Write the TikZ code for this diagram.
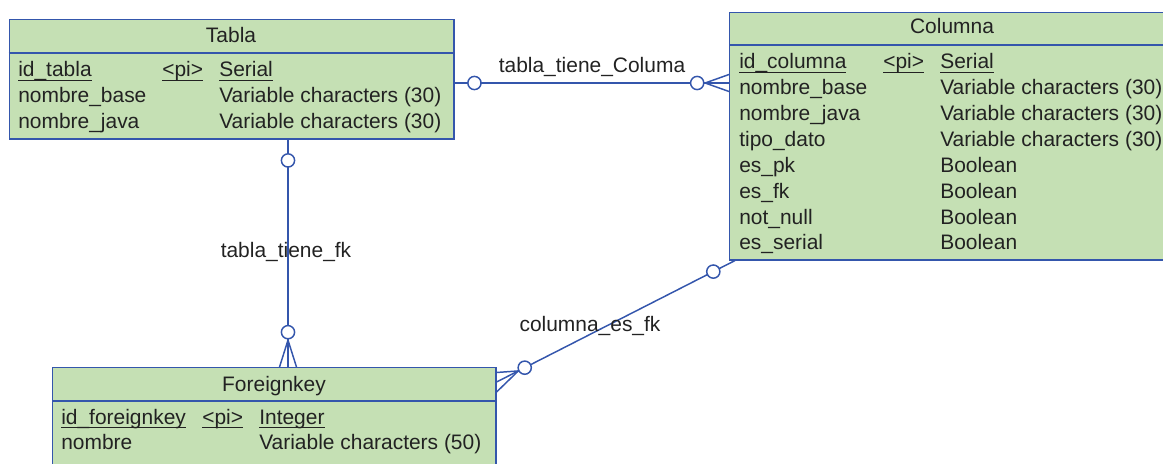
\documentclass[tikz,border=0pt]{standalone}
\usepackage{fontspec}
\setmainfont{Liberation Sans}
\usetikzlibrary{calc,positioning}
\definecolor{entfill}{RGB}{197,224,180}
\definecolor{entline}{RGB}{52,86,172}
\definecolor{enttext}{RGB}{34,34,34}
\newcommand{\pkul}[1]{\setbox0\hbox{#1}\rlap{\rule[-2.9pt]{\wd0}{0.8pt}}\box0}
\tikzset{
  entity/.style={
    draw = entline,
    fill = entfill,
    line width = 1.05pt,
    anchor = north west,
    inner sep = 0pt
  },
  attr/.style={
    anchor = base west,
    inner sep = 0pt,
    text = enttext
  },
  ttl/.style={
    anchor = base,
    inner sep = 0pt,
    text = enttext
  },
  rel/.style={
    draw = entline,
    line width = 1.05pt
  },
  opt/.style={
    shape = circle,
    draw = entline,
    fill = white,
    line width = 1.05pt,
    minimum size = 0.33cm,
    inner sep = 0pt
  },
  every picture/.style = {
    font=\fontsize{14.9}{17}\selectfont
  }
}

\begin{document}
\begin{tikzpicture}[x=0.025cm,y=-0.025cm]
  \clip (0,0) rectangle (1163,464);
  % entidades
  \node[entity, minimum width=11.11cm, minimum height=2.975cm] (tabla) at (8.7,19) {};
  \draw[rel] ([yshift=-0.85cm]tabla.north west) -- ([yshift=-0.85cm]tabla.north east);
  \node[ttl] (tablaT) at (231,43) {Tabla};
  \node[attr] at (18,77) {\pkul{id\_tabla}};
  \node[attr] at (162,77) {\pkul{<pi>}};
  \node[attr] at (219,77) {\pkul{Serial}};
  \foreach \n/\t [count=\i] in {nombre\_base/Variable characters (30),nombre\_java/Variable characters (30)}{
    \node[attr] at (18,77+26*\i) {\n};
    \node[attr] at (219,77+26*\i) {\t};
  }

  \node[entity, minimum width=11.15cm, minimum height=6.175cm] (columna) at (729,12) {};
  \draw[rel] ([yshift=-0.825cm]columna.north west) -- ([yshift=-0.825cm]columna.north east);
  \node[ttl] (columnaT) at (952,34) {Columna};
  \node[attr] at (739,69) {\pkul{id\_columna}};
  \node[attr] at (883,69) {\pkul{<pi>}};
  \node[attr] at (940,69) {\pkul{Serial}};
  \foreach \n/\t [count=\i] in {nombre\_base/Variable characters (30),nombre\_java/Variable characters (30),
      tipo\_dato/Variable characters (30),es\_pk/Boolean,es\_fk/Boolean,not\_null/Boolean,es\_serial/Boolean}{
    \node[attr] at (739,69+25.85*\i) {\n};
    \node[attr] at (940,69+25.85*\i) {\t};
  }

  \node[entity, minimum width=11.075cm, minimum height=2.825cm] (fk) at (52,367) {};
  \draw[rel] ([yshift=-0.85cm]fk.north west) -- ([yshift=-0.85cm]fk.north east);
  \node[ttl] (fkT) at (274,392) {Foreignkey};
  \node[attr] at (61,424) {\pkul{id\_foreignkey}};
  \node[attr] at (202,424) {\pkul{<pi>}};
  \node[attr] at (259,424) {\pkul{Integer}};
  \node[attr] at (61,449) {nombre};
  \node[attr] at (259,449) {Variable characters (50)};

  % relaciones
  \coordinate (y83) at (0,83);
  \coordinate (y382) at (0,382);
  \coordinate (x288) at (288,0);
  \coordinate (x735) at (735,0);
  \coordinate (a1) at (tabla.east |- y83);
  \coordinate (b1) at (columna.west |- y83);
  \coordinate (a2) at (x288 |- tabla.south);
  \coordinate (b2) at (x288 |- fk.north);
  \coordinate (a3) at (x735 |- columna.south);
  \coordinate (b3) at (fk.east |- y382);

  \draw[rel] (a1) -- (b1);
  \draw[rel] ($(b1)+(0,-8.5)$) -- ($(a1)!0.913!(b1)$) -- ($(b1)+(0,8.5)$);
  \node[opt] (o1a) at ($(a1)!0.072!(b1)$) {};
  \node[opt] (o1b) at ($(a1)!0.884!(b1)$) {};
  \node[ttl] (l1) at (592,73) {tabla\_tiene\_Columa};

  \draw[rel] (a2) -- (b2);
  \draw[rel] ($(b2)+(-8.5,0)$) -- ($(a2)!0.882!(b2)$) -- ($(b2)+(8.5,0)$);
  \node[opt] (o2a) at ($(a2)!0.092!(b2)$) {};
  \node[opt] (o2b) at ($(a2)!0.847!(b2)$) {};
  \node[ttl] (l2) at (286,258) {tabla\_tiene\_fk};

  \draw[rel] (a3) -- (b3);
  \draw[rel] ($(b3)+(0,-9.5)$) -- ($(a3)!0.909!(b3)$) -- ($(b3)+(0,10)$);
  \node[opt] (o3a) at ($(a3)!0.091!(b3)$) {};
  \node[opt] (o3b) at ($(a3)!0.882!(b3)$) {};
  \node[ttl] (l3) at (590,332) {columna\_es\_fk};
\end{tikzpicture}
\end{document}
